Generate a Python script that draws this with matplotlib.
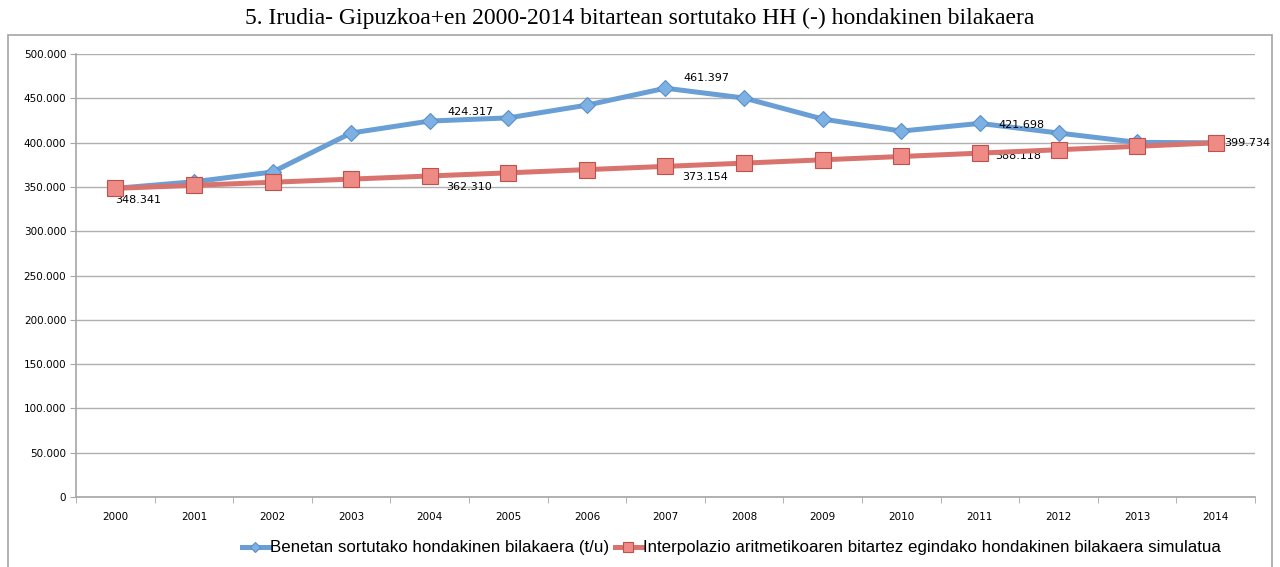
import matplotlib.pyplot as plt
from matplotlib.patches import Rectangle
from matplotlib.ticker import FuncFormatter, FixedLocator

years = ["2000", "2001", "2002", "2003", "2004", "2005", "2006", "2007",
         "2008", "2009", "2010", "2011", "2012", "2013", "2014"]
real = [348341, 355800, 366800, 410800, 424317, 427900, 442300, 461397,
        450300, 426600, 413000, 421698, 410800, 400300, 399734]
simulated = [348341, 351782, 355258, 358768, 362310, 365890, 369504, 373154,
             376840, 380563, 384322, 388118, 391952, 395824, 399734]

# label text, offset in points, vertical alignment
real_labels = {4: ("424.317", (13, 3), "bottom"),
               7: ("461.397", (13, 4), "bottom"),
               11: ("421.698", (13, -1), "center")}
sim_labels = {0: ("348.341", (0, -5), "top"),
              4: ("362.310", (12, -4), "top"),
              7: ("373.154", (12, -4), "top"),
              11: ("388.118", (11, -2), "center"),
              14: ("399.734", (6, 0), "center")}

title = "5. Irudia- Gipuzkoa+en 2000-2014 bitartean sortutako HH (-) hondakinen bilakaera"
name_real = "Benetan sortutako hondakinen bilakaera (t/u)"
name_sim = "Interpolazio aritmetikoaren bitartez egindako hondakinen bilakaera simulatua"

fig = plt.figure(figsize=(12.8, 5.67), dpi=100)
ax = fig.add_axes([76 / 1280, 1 - 497 / 567, (1255 - 76) / 1280, (497 - 54) / 567])

# outer frame of the chart
fig.patches.append(Rectangle((8 / 1280, -0.05), (1272 - 8) / 1280, 1.05 - 35 / 567,
                             transform=fig.transFigure, fill=False,
                             edgecolor="#a6a6a6", linewidth=1.2))

x = list(range(len(years)))
ax.plot(x, real, color="#6a9fd6", linewidth=3.6, marker="D", markersize=8,
        markerfacecolor="#7db0e3", markeredgecolor="#5b8fc9", markeredgewidth=0.8,
        label=name_real, zorder=3)
ax.plot(x, simulated, color="#d9736d", linewidth=3.6, marker="s", markersize=11,
        markerfacecolor="#ee8b85", markeredgecolor="#c0504d", markeredgewidth=0.8,
        label=name_sim, zorder=4)

for i, (txt, off, va) in real_labels.items():
    ax.annotate(txt, (i, real[i]), xytext=off, textcoords="offset points",
                fontsize=8, ha="left", va=va)
for i, (txt, off, va) in sim_labels.items():
    ax.annotate(txt, (i, simulated[i]), xytext=off, textcoords="offset points",
                fontsize=8, ha="left", va=va)

ax.set_xlim(-0.5, len(years) - 0.5)
ax.set_ylim(0, 500000)
ax.set_yticks(range(0, 500001, 50000))
ax.yaxis.set_major_formatter(FuncFormatter(
    lambda v, p: "0" if v == 0 else f"{int(v):,}".replace(",", ".")))
ax.set_xticks(x)
ax.set_xticklabels(years)
ax.xaxis.set_minor_locator(FixedLocator([i + 0.5 for i in range(-1, len(years))]))
ax.tick_params(axis="x", which="major", length=0, pad=11, labelsize=7.5)
ax.tick_params(axis="x", which="minor", length=4, color="#a6a6a6")
ax.tick_params(axis="y", length=4, color="#a6a6a6", labelsize=7.5, pad=3)

ax.grid(axis="y", color="#b0b0b0", linewidth=1)
ax.set_axisbelow(True)
for s in ("top", "right"):
    ax.spines[s].set_visible(False)
for s in ("left", "bottom"):
    ax.spines[s].set_color("#a6a6a6")
    ax.spines[s].set_linewidth(1.2)

fig.text(0.5, 1 - 18 / 567, title, ha="center", va="center",
         fontsize=17, family="Liberation Serif")

ax.legend(loc="center", bbox_to_anchor=(0.556, -0.115), ncol=2, frameon=False,
          handlelength=1.6, handletextpad=0.1, columnspacing=0.3, markerscale=0.6,
          prop={"family": "Liberation Sans", "size": 12.2})

fig.savefig("out.png", dpi=100)
